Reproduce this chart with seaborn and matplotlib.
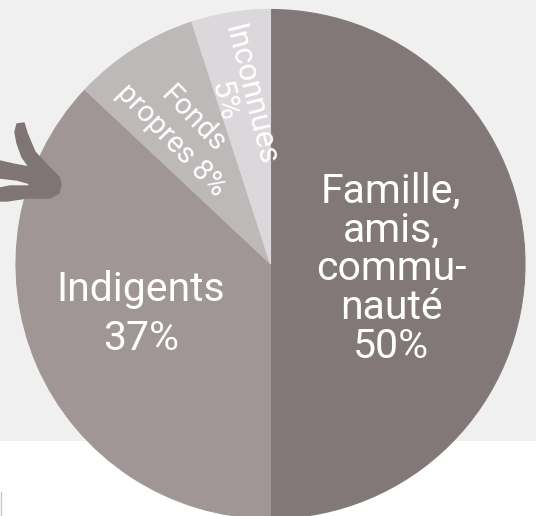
import numpy as np
import matplotlib
matplotlib.use("Agg")
import matplotlib.pyplot as plt
import seaborn as sns
from matplotlib.patches import Polygon

sns.set_theme(style="white")
plt.rcParams["font.family"] = ["Roboto", "DejaVu Sans"]

# Data
categories = ["Famille,\namis,\ncommu-\nnauté", "Indigents", "Fonds\npropres", "Inconnues"]
shares = [50, 37, 8, 5]
colors = sns.color_palette(["#827877", "#a09695", "#bdb9b8", "#dbd7db"])

# Label layout (radius fraction, angle offset in deg, rotation, font size, line spacing)
label_style = [
    (0.475, -2.3, 0, 29.5, 1.0),
    (0.545, -2.3, 0, 29.5, 1.34),
    (0.63, 1.0, -46, 21, 1.1),
    (0.665, 2.5, -76, 22.5, 0.9),
]

W, H = 536, 516
fig = plt.figure(figsize=(W / 100, H / 100), dpi=100)
fig.patch.set_facecolor("white")
ax = fig.add_axes([0, 0, 1, 1])

# background band
ax.axhspan(H - 441, H, color="#f0f0f0", zorder=0, lw=0)

cx, cy, r = 270.5, H - 264, 254.5
wedges, _ = ax.pie(
    shares,
    colors=colors,
    startangle=90,
    counterclock=False,
    radius=r,
    center=(cx, cy),
    wedgeprops=dict(linewidth=0.8),
)
for w in wedges:
    w.set_edgecolor(w.get_facecolor())
    w.set_zorder(2)

for w, cat, val, (rf, doff, rot, fs, ls) in zip(wedges, categories, shares, label_style):
    mid = np.deg2rad((w.theta1 + w.theta2) / 2 + doff)
    x = cx + rf * r * np.cos(mid)
    y = cy + rf * r * np.sin(mid)
    if cat.startswith("Fonds"):
        txt = f"{cat} {val}%"
    else:
        txt = f"{cat}\n{val}%"
    ax.text(x, y, txt, ha="center", va="center", ma="center", color="white",
            fontsize=fs, rotation=rot, rotation_mode="anchor",
            linespacing=ls, zorder=4)

# hand drawn arrow at left
arrow_pts = [(17, 124), (24, 123), (27, 133), (35, 152), (48, 166), (59, 177),
             (61, 184), (59, 193), (50, 198), (27, 198), (7, 201), (0, 201),
             (0, 188), (10, 186), (28, 186), (31, 184), (17, 180), (0, 178),
             (0, 161), (13, 164), (29, 167), (22, 157), (17, 143), (15, 132)]
ax.add_patch(Polygon([(px, H - py) for px, py in arrow_pts], closed=True,
                     facecolor="#7f7574", edgecolor="#7f7574", lw=1, zorder=3))

ax.plot([1, 1], [0, 24], color="#c8c8c8", lw=1, zorder=1)

ax.set_xlim(0, W)
ax.set_ylim(0, H)
ax.set_aspect("equal")
ax.axis("off")

fig.savefig("out.png", dpi=100, facecolor="white")
